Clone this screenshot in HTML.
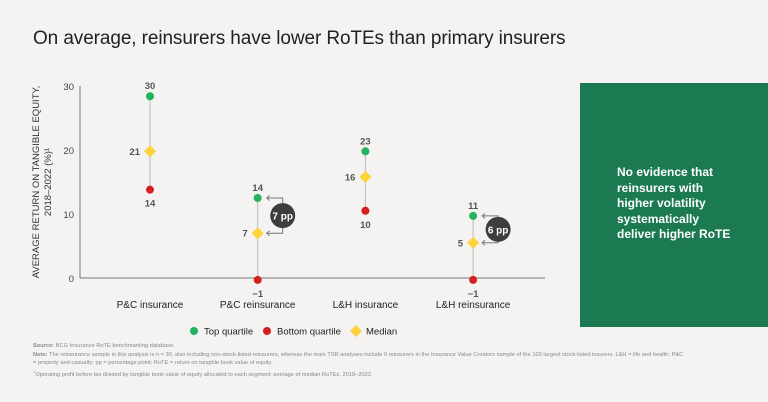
<!DOCTYPE html>
<html><head><meta charset="utf-8"><style>
body{margin:0;background:#f4f3f1;font-family:"Liberation Sans",sans-serif;}
#wrap{position:relative;width:768px;height:402px;overflow:hidden;background:#f4f3f1;}
.t{position:absolute;white-space:nowrap;}
</style></head><body>
<div id="wrap">
<div class="t" style="left:33px;top:28px;font-size:19px;color:#222;letter-spacing:-0.1px;">On average, reinsurers have lower RoTEs than primary insurers</div>
<svg id="chart" width="768" height="402" style="position:absolute;left:0;top:0"></svg>
<div style="position:absolute;left:580px;top:83px;width:188px;height:244px;background:#1c7a52;"></div>
<div class="t" style="left:617px;top:165px;color:#fff;font-size:12px;font-weight:bold;line-height:15.5px;white-space:normal;width:122px;">No evidence that reinsurers with higher volatility systematically deliver higher RoTE</div>
<div class="t" style="left:33px;top:342px;font-size:5.7px;line-height:8.6px;color:#888;white-space:normal;width:720px;"><b>Source:</b> BCG Insurance RoTE benchmarking database.<br><b>Note:</b> The reinsurance sample in this analysis is n = 30, also including non-stock-listed reinsurers, whereas the main TSR analyses include 9 reinsurers in the Insurance Value Creators sample of the 103 largest stock-listed insurers. L&amp;H = life and health; P&amp;C<br>= property and casualty; pp = percentage point; RoTE = return on tangible book value of equity.<br><sup style="font-size:4px">1</sup>Operating profit before tax divided by tangible book value of equity allocated to each segment; average of median RoTEs, 2018–2022.</div>
</div>
<script>
const categories=["P&C insurance","P&C reinsurance","L&H insurance","L&H reinsurance"];
const topQ=[28.4,12.5,19.8,9.7];
const medianV=[19.8,7,15.8,5.5];
const bottomQ=[13.8,-0.3,10.5,-0.3];
const topLabels=["30","14","23","11"];
const medianLabels=["21","7","16","5"];
const bottomLabels=["14","\u22121","10","\u22121"];
const yTicks=[0,10,20,30];
const gaps=[null,"7 pp",null,"6 pp"];
const svg=document.getElementById('chart');
const NS="http://www.w3.org/2000/svg";
const y=v=>278-v*6.4;
const x=i=>150+i*107.7;
function mk(t,a,txt){const e=document.createElementNS(NS,t);for(const k in a)e.setAttribute(k,a[k]);if(txt!=null)e.textContent=txt;svg.appendChild(e);return e;}
let e;
e=mk('line',{x1:80,y1:86,x2:80,y2:278,stroke:'#777','stroke-width':1});


e=mk('line',{x1:80,y1:278,x2:545,y2:278,stroke:'#777','stroke-width':1});


yTicks.forEach(v=>{e=mk('text',{x:74,y:y(v)+4,'text-anchor':'end','font-size':9.5,fill:'#444'},v);

});
e=mk('text',{transform:'translate(39,182) rotate(-90)','text-anchor':'middle','font-size':9.5,fill:'#333'},'AVERAGE RETURN ON TANGIBLE EQUITY,');


e=mk('text',{transform:'translate(51,182) rotate(-90)','text-anchor':'middle','font-size':9.5,fill:'#333'},'2018–2022 (%)¹');


categories.forEach((c,i)=>{
 const cx=x(i);
 e=mk('line',{x1:cx,y1:y(topQ[i]),x2:cx,y2:y(bottomQ[i]),stroke:'#bbb','stroke-width':1});
 
 
 e=mk('text',{x:cx,y:308,'text-anchor':'middle','font-size':10,fill:'#222'},c);
 
 
 e=mk('circle',{cx:cx,cy:y(topQ[i]),r:4,fill:'#22b35e'});
 
 
 e=mk('text',{x:cx,y:y(topQ[i])-7,'text-anchor':'middle','font-size':9.5,'font-weight':'bold',fill:'#555'},topLabels[i]);
 
 
 e=mk('circle',{cx:cx,cy:y(bottomQ[i]),r:4,fill:'#d42020'});
 
 
 e=mk('text',{x:cx,y:y(bottomQ[i])+17,'text-anchor':'middle','font-size':9.5,'font-weight':'bold',fill:'#555'},bottomLabels[i]);
 
 
 const my=y(medianV[i]);
 e=mk('polygon',{points:`${cx},${my-6} ${cx+6},${my} ${cx},${my+6} ${cx-6},${my}`,fill:'#fdd23a'});
 
 
 e=mk('text',{x:cx-10,y:my+3.5,'text-anchor':'end','font-size':9.5,'font-weight':'bold',fill:'#555'},medianLabels[i]);
 
 
 if(gaps[i]){
  const ty=y(topQ[i]),bx=cx+25;
  e=mk('path',{d:`M${cx+9},${ty} H${bx} V${my} H${cx+9} M${cx+12},${ty-2.5} L${cx+9},${ty} L${cx+12},${ty+2.5} M${cx+12},${my-2.5} L${cx+9},${my} L${cx+12},${my+2.5}`,stroke:'#777',fill:'none','stroke-width':1});
  
  
  e=mk('circle',{cx:bx,cy:(ty+my)/2,r:12.5,fill:'#3d3d3d'});
  
  
  e=mk('text',{x:bx,y:(ty+my)/2+4,'text-anchor':'middle','font-size':10,'font-weight':'bold',fill:'#fff'},gaps[i]);
  
  
 }
});
e=mk('circle',{cx:194,cy:331,r:4,fill:'#22b35e'});


e=mk('text',{x:204,y:334.5,'font-size':9.5,fill:'#222'},'Top quartile');


e=mk('circle',{cx:267,cy:331,r:4,fill:'#d42020'});


e=mk('text',{x:277,y:334.5,'font-size':9.5,fill:'#222'},'Bottom quartile');


e=mk('polygon',{points:'356,325 362,331 356,337 350,331',fill:'#fdd23a'});


e=mk('text',{x:366,y:334.5,'font-size':9.5,fill:'#222'},'Median');


</script>
</body></html>
